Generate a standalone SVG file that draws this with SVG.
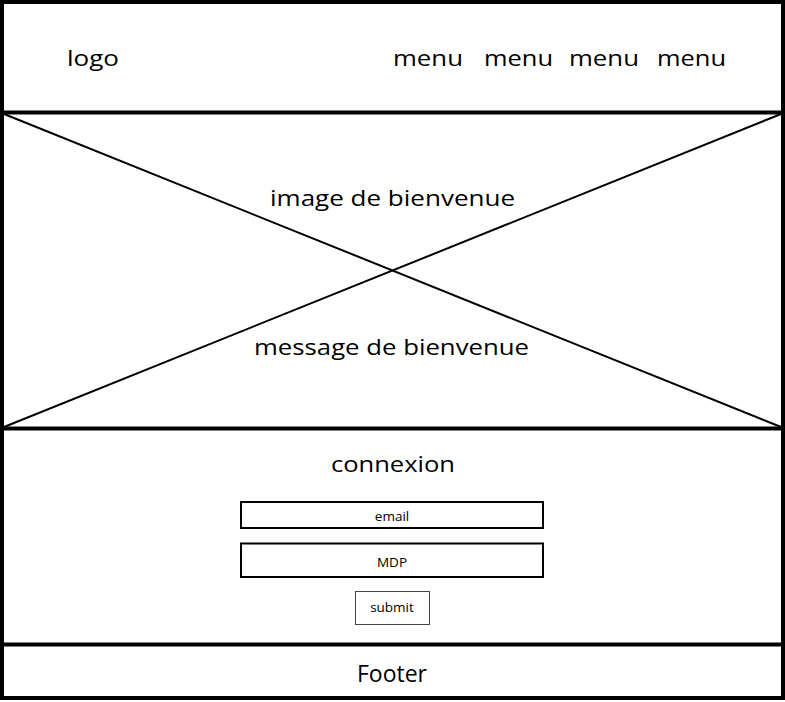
<svg xmlns="http://www.w3.org/2000/svg" width="785" height="702" viewBox="0 0 785 702">
  <style>
    .frame { fill: none; stroke: #000; stroke-width: 4; }
    .rule { stroke: #000; stroke-width: 4; }
    .cross { stroke: #000; stroke-width: 2; }
    .field { fill: #fff; stroke: #000; stroke-width: 2; }
    .btn { fill: #fff; stroke: #444; stroke-width: 1; }
    .big { font-family: "Open Sans", "Liberation Sans", sans-serif; font-size: 22px; fill: #000; }
    .small { font-family: "Open Sans", "Liberation Sans", sans-serif; font-size: 13.5px; fill: #000; text-anchor: middle; }
    .foot { font-family: "Open Sans", "Liberation Sans", sans-serif; font-size: 23px; fill: #000; text-anchor: middle; }
  </style>
  <rect width="785" height="702" fill="#fff"/>

  <g id="frame">
    <rect class="frame" x="2" y="2" width="781" height="696"/>
  </g>

  <g id="connectors">
    <line class="rule" x1="2" y1="112.5" x2="783" y2="112.5"/>
    <line class="rule" x1="2" y1="428.5" x2="783" y2="428.5"/>
    <line class="rule" x1="2" y1="644.5" x2="783" y2="644.5"/>
    <line class="cross" x1="4" y1="114" x2="781" y2="427"/>
    <line class="cross" x1="4" y1="427" x2="781" y2="114"/>
  </g>

  <g id="header">
    <text class="big" x="67" y="66" textLength="52" lengthAdjust="spacingAndGlyphs">logo</text>
    <text class="big" x="393" y="66" textLength="70" lengthAdjust="spacingAndGlyphs">menu</text>
    <text class="big" x="484" y="66" textLength="69" lengthAdjust="spacingAndGlyphs">menu</text>
    <text class="big" x="569" y="66" textLength="70" lengthAdjust="spacingAndGlyphs">menu</text>
    <text class="big" x="657" y="66" textLength="69" lengthAdjust="spacingAndGlyphs">menu</text>
  </g>

  <g id="hero">
    <text class="big" x="270" y="206" textLength="245" lengthAdjust="spacingAndGlyphs">image de bienvenue</text>
    <text class="big" x="254" y="355" textLength="275" lengthAdjust="spacingAndGlyphs">message de bienvenue</text>
  </g>

  <g id="connexion">
    <text class="big" x="331" y="472" textLength="124" lengthAdjust="spacingAndGlyphs">connexion</text>
  </g>

  <g id="email">
    <rect class="field" x="241" y="502" width="302" height="26"/>
    <text class="small" x="392" y="521">email</text>
  </g>

  <g id="mdp">
    <rect class="field" x="241" y="543.5" width="302" height="33.5"/>
    <text class="small" x="392" y="567">MDP</text>
  </g>

  <g id="submit">
    <rect class="btn" x="355.5" y="591.5" width="74" height="33"/>
    <text class="small" x="392" y="612">submit</text>
  </g>

  <g id="footer">
    <text class="foot" x="392" y="682">Footer</text>
  </g>
</svg>
